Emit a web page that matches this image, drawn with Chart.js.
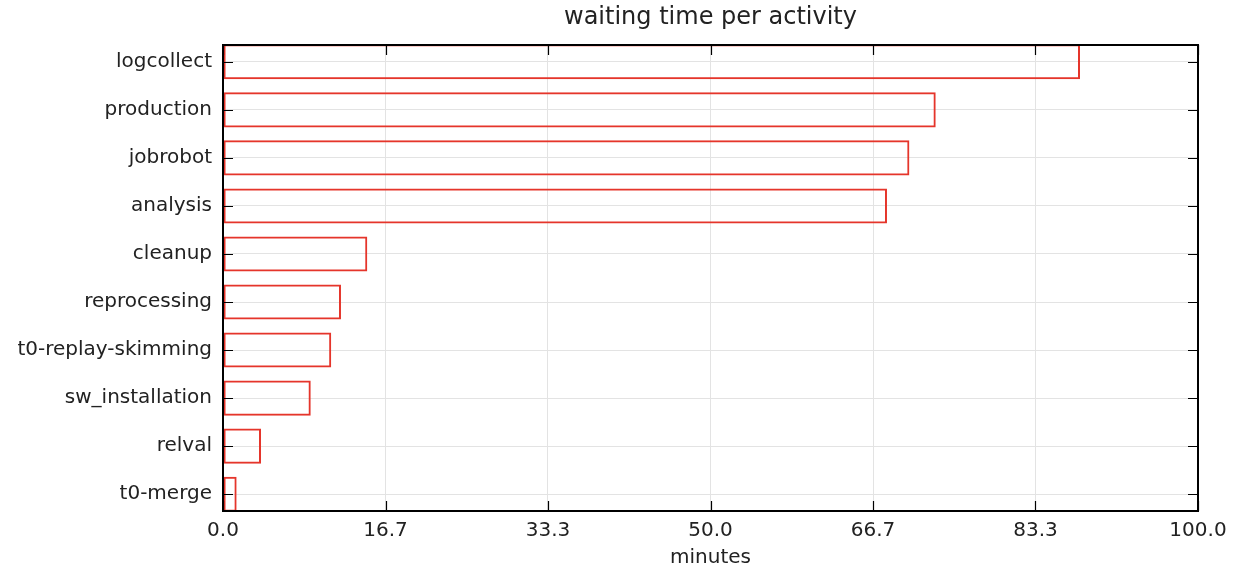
<!DOCTYPE html>
<html>
<head>
<meta charset="utf-8">
<title>waiting time per activity</title>
<script src="https://cdn.jsdelivr.net/npm/chart.js@4/dist/chart.umd.min.js"></script>
<style>
    html, body { margin: 0; padding: 0; background: #fff; }
    #wrap { width: 1233px; height: 567px; }
</style>
</head>
<body>
<div id="wrap"><canvas id="waitChart"></canvas></div>
<script>
// Data
const activities = ['logcollect', 'production', 'jobrobot', 'analysis', 'cleanup',
    'reprocessing', 't0-replay-skimming', 'sw_installation', 'relval', 't0-merge'];
const waitMinutes = [87.9, 73.1, 70.4, 68.1, 14.8, 12.1, 11.1, 9.0, 3.9, 1.4];
const xTicks = [0, 16.667, 33.333, 50, 66.667, 83.333, 100];
const chartTitle = 'waiting time per activity';

Chart.defaults.font.family = "'DejaVu Sans', sans-serif";
Chart.defaults.color = '#222';

// frame, inward tick marks and a title centred over the plot (matplotlib look)
const frameTicks = {
    id: 'frameTicks',
    afterDraw(chart) {
        const { ctx, chartArea: a, scales } = chart;
        const len = 10;
        ctx.save();
        ctx.strokeStyle = '#000';
        ctx.lineWidth = 1.2;
        ctx.beginPath();
        scales.x.ticks.forEach(t => {
            const px = Math.round(scales.x.getPixelForValue(t.value)) + 0.5;
            ctx.moveTo(px, a.bottom); ctx.lineTo(px, a.bottom - len);
            ctx.moveTo(px, a.top); ctx.lineTo(px, a.top + len);
        });
        scales.y.ticks.forEach(t => {
            const py = Math.round(scales.y.getPixelForValue(t.value)) + 0.5;
            ctx.moveTo(a.left, py); ctx.lineTo(a.left + len, py);
            ctx.moveTo(a.right, py); ctx.lineTo(a.right - len, py);
        });
        ctx.stroke();
        ctx.lineWidth = 2;
        ctx.strokeRect(a.left, a.top, a.right - a.left, a.bottom - a.top);

        ctx.fillStyle = '#222';
        ctx.font = "24px 'DejaVu Sans', sans-serif";
        ctx.textAlign = 'center';
        ctx.textBaseline = 'middle';
        ctx.fillText(chartTitle, (a.left + a.right) / 2, 18);
        ctx.restore();
    }
};

new Chart(document.getElementById('waitChart'), {
    type: 'bar',
    data: {
        datasets: [{
            label: 'waiting time',
            data: activities.map((name, i) => ({ x: waitMinutes[i], y: i })),
            backgroundColor: 'rgba(255,255,255,0)',
            borderColor: '#e5352b',
            borderWidth: 2,
            borderSkipped: false,
            categoryPercentage: 1,
            barPercentage: 0.73
        }]
    },
    options: {
        indexAxis: 'y',
        responsive: true,
        maintainAspectRatio: false,
        animation: false,
        layout: { padding: { left: 0, right: 35, top: 45, bottom: 0 } },
        plugins: {
            legend: { display: false },
            tooltip: { enabled: false },
            title: { display: false }
        },
        scales: {
            x: {
                type: 'linear',
                min: 0,
                max: 100,
                afterBuildTicks: s => { s.ticks = xTicks.map(v => ({ value: v })); },
                afterFit: s => {
                    s.height = 56;
                    // let "100.0" run into the margin like the original
                    s.paddingLeft = 0;
                    s.paddingRight = 0;
                },
                grid: { color: '#e3e3e3', drawTicks: false },
                border: { display: false },
                ticks: {
                    autoSkip: false,
                    maxRotation: 0,
                    padding: 8,
                    font: { size: 20 },
                    callback: v => v.toFixed(1)
                },
                title: {
                    display: true,
                    text: 'minutes',
                    font: { size: 20 },
                    padding: { top: 0, bottom: -3 }
                }
            },
            y: {
                type: 'linear',
                reverse: true,
                offset: false,
                min: -0.35,
                max: activities.length - 0.65,
                afterBuildTicks: s => { s.ticks = activities.map((n, i) => ({ value: i })); },
                afterFit: s => { s.width = 223; },
                grid: { color: '#e3e3e3', drawTicks: false, offset: false },
                border: { display: false },
                ticks: {
                    autoSkip: false,
                    padding: 11,
                    font: { size: 20 },
                    callback: v => activities[v]
                }
            }
        }
    },
    plugins: [frameTicks]
});
</script>
</body>
</html>
